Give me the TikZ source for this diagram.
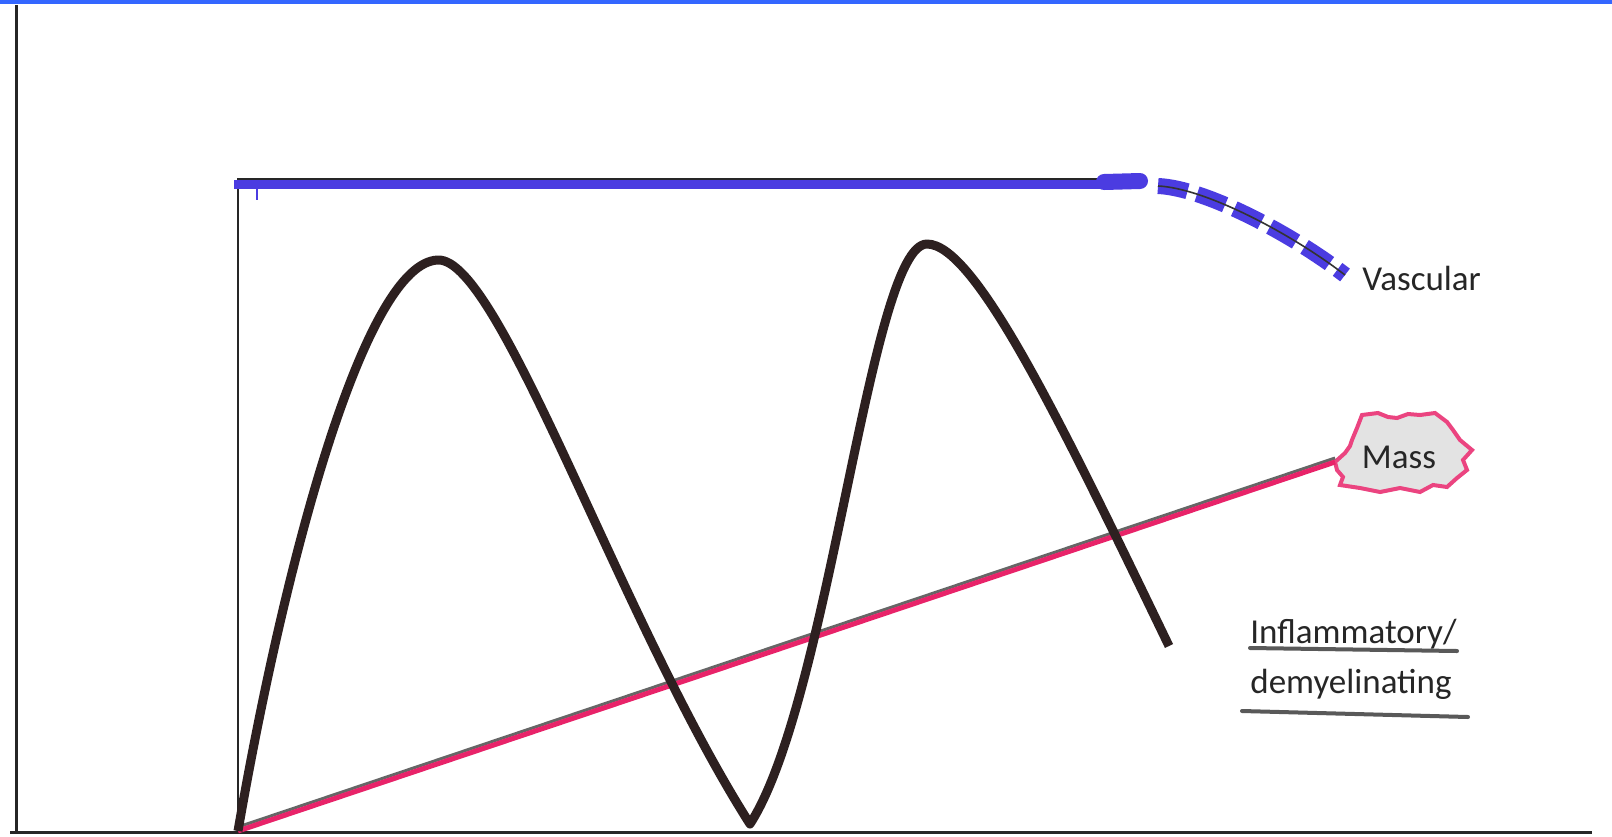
\documentclass[tikz,border=0pt]{standalone}
\usepackage{fontspec}
\setmainfont{Carlito}
\definecolor{vascblue}{RGB}{75,60,225}
\definecolor{massred}{RGB}{232,35,105}
\definecolor{inkblack}{RGB}{45,32,32}
\definecolor{topblue}{RGB}{51,102,255}

\begin{document}
\begin{tikzpicture}[x=0.5pt, y=-0.5pt, % pixel grid, y runs down
    lbl/.style={font=\fontsize{17.5}{20}\selectfont, text=black!85, inner sep=0pt},
    uline/.style={line width=2pt, black!65, line cap=round}]

  \useasboundingbox (0,0) rectangle (1612,836);
  \fill[white] (0,0) rectangle (1612,836);
  \fill[topblue] (0,0) rectangle (1612,4);

  % Axes
  \draw[line width=1.5pt, black!85] (16,5) -- (16,832);
  \draw[line width=1.5pt, black!85] (10,832) -- (1592,832);

  \coordinate (origin) at (238,831);
  \coordinate (masstip) at (1335,462);

  % Vascular: sudden onset, then plateau
  \draw[line width=1.2pt, black!85] (origin) -- (238,179) -- (1100,179);
  \draw[vascblue, line width=4.5pt] (234,184) -- (1131,184);
  \draw[vascblue, line width=1pt] (257,184) -- (257,200);
  \draw[vascblue, line width=8pt, line cap=round] (1104,182) -- (1140,181);
  \draw[vascblue, line width=8pt, dash pattern=on 15pt off 5pt]
    (1158,186) .. controls (1205,188) and (1292,234) .. (1345,275);
  \draw[black!80, line width=0.8pt]
    (1158,186) .. controls (1205,188) and (1292,234) .. (1345,275);
  \node[lbl, anchor=base west] (vasc) at (1362,290) {Vascular};

  % Mass: steady slope
  \filldraw[fill=gray!22, draw=massred!85, line width=2pt]
    (masstip) -- (1345,453) -- (1350,446) -- (1352,440) -- (1357,428)
    -- (1362,415) -- (1378,413) -- (1388,417) -- (1397,418) -- (1408,414)
    -- (1420,415) -- (1435,413) -- (1447,422) -- (1453,430) -- (1460,440)
    -- (1472,450) -- (1463,460) -- (1467,470) -- (1457,478) -- (1447,487)
    -- (1433,485) -- (1420,492) -- (1400,488) -- (1380,492) -- (1360,488)
    -- (1340,485) -- (1343,477) -- (1337,470) -- cycle;
  \node[lbl] (mass) at (1399,457) {Mass};
  \draw[black!60, line width=1.5pt] ([yshift=2pt]origin) -- ([yshift=2pt]masstip);
  \draw[massred, line width=2.5pt] (origin) -- (masstip);

  % Inflammatory / demyelinating: relapsing and remitting
  \draw[inkblack, line width=4.5pt, line join=round]
    (origin) .. controls (285,560) and (365,262) .. (438,260)
    .. controls (500,258) and (620,620) .. (750,824)
    .. controls (830,700) and (870,244) .. (927,244)
    .. controls (975,244) and (1060,420) .. (1169,646);
  \node[lbl, anchor=base west] (infl) at (1250,643) {Inflammatory/};
  \node[lbl, anchor=base west] (demy) at (1250,693) {demyelinating};
  \draw[uline] ([yshift=-2.5pt]infl.base west) -- ([yshift=-4pt]infl.base east);
  \draw[uline] ([xshift=-4pt, yshift=-9pt]demy.base west) -- ([xshift=8pt, yshift=-12pt]demy.base east);

\end{tikzpicture}
\end{document}
